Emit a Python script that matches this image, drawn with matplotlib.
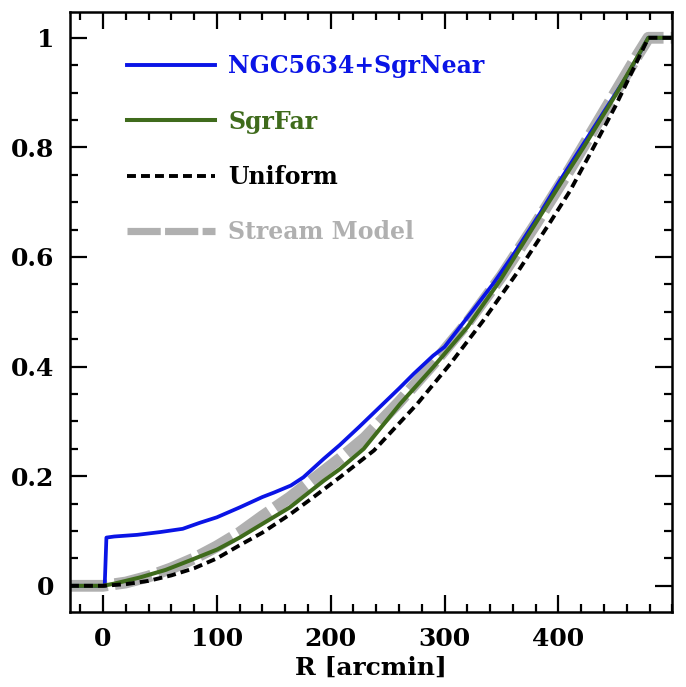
import numpy as np
import matplotlib.pyplot as plt
from matplotlib.lines import Line2D
from matplotlib.ticker import MultipleLocator, FixedLocator

plt.rcParams['font.family'] = 'DejaVu Serif'
plt.rcParams['font.weight'] = 'bold'

# cumulative radial distributions, R in arcmin
r_near = [-29, 1.5, 3, 10, 30, 50, 70, 85, 100, 120, 140, 150, 165, 176, 194, 208,
          225, 243, 260, 273, 290, 300, 325, 343, 361, 384, 400, 420, 440, 460, 479, 500]
f_near = [0, 0, 0.088, 0.090, 0.093, 0.098, 0.104, 0.115, 0.125, 0.143, 0.162, 0.170, 0.183,
          0.198, 0.232, 0.257, 0.290, 0.326, 0.360, 0.387, 0.420, 0.436, 0.503, 0.552, 0.606,
          0.680, 0.735, 0.800, 0.865, 0.930, 1.0, 1.0]

r_far = [-29, 0, 10, 32, 55, 76, 100, 120, 140, 164, 194, 208, 229, 261, 290, 320, 349,
         378, 400, 422, 450, 479, 500]
f_far = [0, 0, 0.004, 0.015, 0.029, 0.046, 0.066, 0.088, 0.113, 0.143, 0.192, 0.213, 0.250,
         0.332, 0.399, 0.472, 0.558, 0.655, 0.728, 0.800, 0.895, 1.0, 1.0]

r_uni = [-29, 0, 20, 40, 60, 80, 100, 120, 140, 164, 185, 208, 238, 276, 305, 334, 364,
         392, 410, 428, 450, 479, 500]
f_uni = [0, 0, 0.003, 0.009, 0.019, 0.032, 0.050, 0.074, 0.097, 0.130, 0.162, 0.198, 0.247,
         0.332, 0.405, 0.484, 0.572, 0.661, 0.720, 0.789, 0.875, 1.0, 1.0]

r_mod = [-29, 0, 20, 40, 60, 80, 100, 120, 140, 164, 185, 208, 230, 260, 290, 320, 350,
         380, 410, 440, 470, 479, 500]
f_mod = [0, 0, 0.006, 0.017, 0.032, 0.050, 0.072, 0.097, 0.127, 0.161, 0.195, 0.232, 0.270,
         0.335, 0.405, 0.480, 0.565, 0.660, 0.760, 0.865, 0.970, 1.0, 1.0]

labels = ['NGC5634+SgrNear', 'SgrFar', 'Uniform', 'Stream Model']
colors = ['#0a14e6', '#3f6b1c', 'black', '#b0b0b0']

fig = plt.figure(figsize=(6.86, 6.87), dpi=100)
ax = fig.add_axes([0.102, 0.109, 0.878, 0.8735])

ax.plot(r_mod, f_mod, color=colors[3], lw=8.5, dashes=(3.2, 0.6), solid_capstyle='butt')
ax.plot(r_near, f_near, color=colors[0], lw=2.7)
ax.plot(r_far, f_far, color=colors[1], lw=2.9)
ax.plot(r_uni, f_uni, color=colors[2], lw=2.8, dashes=(2.3, 1.3))

ax.set_xlim(-29, 500)
ax.set_ylim(-0.048, 1.047)
ax.xaxis.set_major_locator(FixedLocator([0, 100, 200, 300, 400]))
ax.xaxis.set_minor_locator(MultipleLocator(20))
ax.yaxis.set_major_locator(MultipleLocator(0.2))
ax.yaxis.set_minor_locator(MultipleLocator(0.05))
ax.yaxis.set_major_formatter(plt.FuncFormatter(lambda v, p: '%g' % round(v, 2)))
ax.tick_params(which='both', direction='in', top=True, right=True, width=1.6,
               labelsize=18, pad=11)
ax.tick_params(which='major', length=12)
ax.tick_params(which='minor', length=6)
for s in ax.spines.values():
    s.set_linewidth(1.8)
ax.set_xlabel('R [arcmin]', fontsize=18, fontweight='bold', labelpad=3)

handles = [Line2D([], [], color=colors[0], lw=2.8),
           Line2D([], [], color=colors[1], lw=2.9),
           Line2D([], [], color=colors[2], lw=2.8, dashes=(2.3, 1.3)),
           Line2D([], [], color=colors[3], lw=5.2, dashes=(4.6, 0.6))]
leg = ax.legend(handles, labels, loc='upper left', bbox_to_anchor=(0.06, 0.965),
                frameon=False, fontsize=17, handlelength=3.73, handletextpad=0.55,
                labelspacing=1.33, labelcolor=colors)

fig.savefig('out.png', dpi=100)
